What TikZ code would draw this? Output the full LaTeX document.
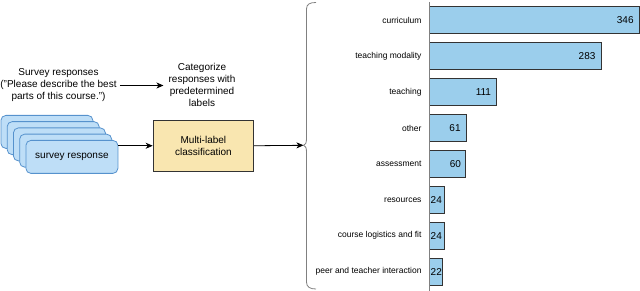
\documentclass[tikz,border=0pt]{standalone}
\usepackage{fontspec}
\setmainfont{Liberation Sans}
\usetikzlibrary{arrows.meta}
\definecolor{cardfill}{RGB}{190,222,247}
\definecolor{cardline}{RGB}{86,146,205}
\definecolor{boxfill}{RGB}{249,230,176}
\definecolor{barfill}{RGB}{155,206,236}
\definecolor{darkline}{RGB}{51,51,51}
\tikzset{
  txt/.style={inner sep=0pt, align=center, font=\fontsize{10}{12}\selectfont},
  card/.style={draw=cardline, fill=cardfill, rounded corners=5pt, line width=0.8pt, minimum width=92pt, minimum height=33pt, anchor=north west, inner sep=0pt, font=\fontsize{10}{12}\selectfont},
  mlbox/.style={draw=darkline, fill=boxfill, line width=0.8pt, minimum width=100.6pt, minimum height=50.7pt, anchor=north west, inner sep=0pt, align=center, font=\fontsize{10}{12}\selectfont},
  bar/.style={draw=darkline, fill=barfill, line width=0.8pt, minimum height=27pt, anchor=north west, inner sep=0pt},
  cat/.style={anchor=east, inner sep=0pt, font=\fontsize{8.5}{10}\selectfont},
  val/.style={inner sep=0pt, font=\fontsize{10}{12}\selectfont},
  arr/.style={line width=0.8pt, -{Stealth[length=7pt,width=6pt,inset=2pt]}},
}
\begin{document}
\begin{tikzpicture}[x=1pt,y=-1pt]
\useasboundingbox (0,0) rectangle (640,291);
% cards
\node[card] (card1) at (0.5,115) {};
\node[card] (card2) at (6.75,121.25) {};
\node[card] (card3) at (13,127.5) {};
\node[card] (card4) at (19.25,133.75) {};
\node[card] (card5) at (25.5,140) {survey response};
% texts
\node[txt] (surv) at (58.5,85.5) {Survey responses\\("Please describe the best\\parts of this course.")};
\node[txt] (catg) at (202,84.7) {Categorize\\responses with\\predetermined\\labels};
\draw[arr] ([xshift=3pt]surv.east) -- ([xshift=-5pt]surv.east -| catg.west);
% box
\node[mlbox] (box) at (152.7,120) {Multi-label\\classification};
\draw[arr] (box.west -| card5.east) -- (box.west);
\coordinate (tip) at (303.5,145.3);
\draw[arr] (box.east) -- (tip);
% brace
\draw[line width=0.8pt, gray] (316,2.5) .. controls (310,2.5) and (306.5,4) .. (306.5,9) -- (306.5,138) .. controls (306.5,143) and (305.5,145.3) .. (tip) .. controls (305.5,145.3) and (306.5,148) .. (306.5,152) -- (306.5,282) .. controls (306.5,287) and (310,289) .. (316,289);
% bars
\node[bar, minimum width=210pt] (b1) at (429,6.5) {};
\node[bar, minimum width=171.8pt] (b2) at (429,42.4) {};
\node[bar, minimum width=67.4pt] (b3) at (429,78.3) {};
\node[bar, minimum width=37pt] (b4) at (429,114.2) {};
\node[bar, minimum width=36.4pt] (b5) at (429,150.1) {};
\node[bar, minimum width=14.6pt] (b6) at (429,186) {};
\node[bar, minimum width=14.6pt] (b7) at (429,221.9) {};
\node[bar, minimum width=13.4pt] (b8) at (429,257.8) {};
\draw[line width=0.8pt, gray] (429,2) -- (429,291);
% values
\node[val, anchor=east] at ([xshift=-6pt]b1.east) {346};
\node[val, anchor=east] at ([xshift=-6pt]b2.east) {283};
\node[val, anchor=east] at ([xshift=-6pt]b3.east) {111};
\node[val, anchor=east] at ([xshift=-6pt]b4.east) {61};
\node[val, anchor=east] at ([xshift=-5pt]b5.east) {60};
\node[val, anchor=west] at ([xshift=1.5pt]b6.west) {24};
\node[val, anchor=west] at ([xshift=1.5pt]b7.west) {24};
\node[val, anchor=west] at ([xshift=1.5pt]b8.west) {22};
% categories
\node[cat] (c1) at ([xshift=-7.3pt]b1.west) {curriculum};
\node[cat] (c2) at ([xshift=-7.3pt]b2.west) {teaching modality};
\node[cat] (c3) at ([xshift=-7.3pt]b3.west) {teaching};
\node[cat] (c4) at ([xshift=-7.3pt]b4.west) {other};
\node[cat] (c5) at ([xshift=-7.3pt]b5.west) {assessment};
\node[cat] (c6) at ([xshift=-7.3pt]b6.west) {resources};
\node[cat] (c7) at ([xshift=-7.3pt]b7.west) {course logistics and fit};
\node[cat] (c8) at ([xshift=-7.3pt]b8.west) {peer and teacher interaction};
\end{tikzpicture}
\end{document}
